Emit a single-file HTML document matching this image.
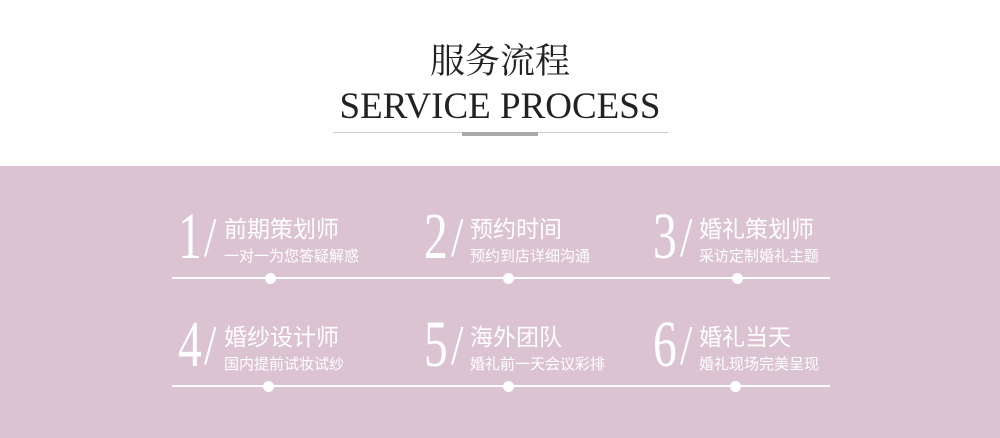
<!DOCTYPE html><html><head><meta charset="utf-8"><style>
body{margin:0;width:1000px;height:438px;background:#fff;position:relative;overflow:hidden;font-family:"Liberation Sans","Noto Sans CJK SC",sans-serif}
.pink{position:absolute;left:0;top:166px;width:1000px;height:272px;background:#dcc3d2}
.a{position:absolute;white-space:nowrap}
.num{font-family:"Liberation Serif",serif;font-size:66px;color:#fff;line-height:1;transform:scaleX(0.72);transform-origin:left top}
.sl{font-family:"Liberation Serif",serif;font-size:56px;color:#fff;line-height:1;transform:scaleX(0.8);transform-origin:left top}
.t{font-size:23px;color:#fff;line-height:1}
.s{font-size:15px;color:#fff;line-height:1}
.ln{position:absolute;height:2px;background:#fff}
.dot{position:absolute;width:11px;height:11px;border-radius:50%;background:#fff}
</style></head><body>
<div class="a" style="left:0;width:1000px;text-align:center;top:44px;font-family:'Liberation Serif','Noto Serif CJK SC',serif;font-size:35px;color:#222;line-height:1">服务流程</div>
<div class="a" style="left:0;width:1000px;text-align:center;top:88px;font-family:'Liberation Serif',serif;font-size:37px;color:#222;line-height:1">SERVICE PROCESS</div>
<div class="a" style="left:333px;top:132px;width:335px;height:1px;background:#ccc"></div>
<div class="a" style="left:462px;top:132px;width:76px;height:4px;background:#aaa"></div>
<div class="pink"></div>

<div class="a num" style="left:178px;top:204px">1</div><div class="a sl" style="left:204px;top:210px">/</div>
<div class="a t" style="left:224px;top:218px">前期策划师</div><div class="a s" style="left:224px;top:249px">一对一为您答疑解惑</div>
<div class="a num" style="left:424px;top:204px">2</div><div class="a sl" style="left:451px;top:210px">/</div>
<div class="a t" style="left:470px;top:218px">预约时间</div><div class="a s" style="left:470px;top:249px">预约到店详细沟通</div>
<div class="a num" style="left:653px;top:204px">3</div><div class="a sl" style="left:680px;top:210px">/</div>
<div class="a t" style="left:699px;top:218px">婚礼策划师</div><div class="a s" style="left:699px;top:249px">采访定制婚礼主题</div>
<div class="ln" style="left:172px;top:277px;width:658px"></div>
<div class="dot" style="left:265px;top:273px"></div><div class="dot" style="left:503px;top:273px"></div><div class="dot" style="left:732px;top:273px"></div>

<div class="a num" style="left:178px;top:312px">4</div><div class="a sl" style="left:204px;top:318px">/</div>
<div class="a t" style="left:224px;top:326px">婚纱设计师</div><div class="a s" style="left:224px;top:357px">国内提前试妆试纱</div>
<div class="a num" style="left:424px;top:312px">5</div><div class="a sl" style="left:451px;top:318px">/</div>
<div class="a t" style="left:470px;top:326px">海外团队</div><div class="a s" style="left:470px;top:357px">婚礼前一天会议彩排</div>
<div class="a num" style="left:653px;top:312px">6</div><div class="a sl" style="left:680px;top:318px">/</div>
<div class="a t" style="left:699px;top:326px">婚礼当天</div><div class="a s" style="left:699px;top:357px">婚礼现场完美呈现</div>
<div class="ln" style="left:172px;top:385px;width:658px"></div>
<div class="dot" style="left:263px;top:381px"></div><div class="dot" style="left:503px;top:381px"></div><div class="dot" style="left:730px;top:381px"></div>
</body></html>
